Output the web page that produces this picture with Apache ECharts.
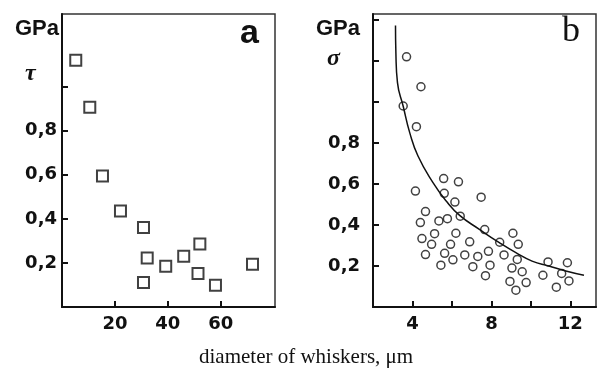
<!DOCTYPE html>
<html>
<head>
<meta charset="utf-8">
<script src="https://cdn.jsdelivr.net/npm/echarts@6/dist/echarts.min.js"></script>
<style>
  html, body { margin: 0; padding: 0; background: #fff; }
  #chart { width: 597px; height: 378px; }
</style>
</head>
<body>
<div id="chart"></div>
<script>
// panel a: shear strength tau vs whisker diameter
const tauDiam = [5.2, 10.5, 15.3, 22.1, 30.8, 32.2, 30.8, 39.2, 46.0, 52.1, 51.4, 58.0, 72.0];
const tauVal = [1.12, 0.907, 0.595, 0.436, 0.361, 0.222, 0.111, 0.185, 0.23, 0.286, 0.152, 0.099, 0.194];

// panel b: tensile strength sigma vs whisker diameter
const sigmaDiam = [3.70, 4.43, 3.53, 4.20, 4.15, 4.66, 4.40, 4.48, 4.97, 5.12, 4.66, 5.34,
  5.58, 5.61, 5.77, 5.44, 5.63, 5.93, 6.20, 6.15, 6.33, 6.42, 6.05, 6.65, 6.90, 7.06,
  7.31, 7.48, 7.66, 7.85, 7.93, 7.70, 8.42, 8.64, 9.09, 9.36, 9.31, 9.04, 8.94, 9.24,
  9.56, 9.76, 10.61, 10.87, 11.29, 11.56, 11.85, 11.93];
const sigmaVal = [1.221, 1.075, 0.981, 0.880, 0.566, 0.466, 0.412, 0.334, 0.306, 0.358, 0.256, 0.420,
  0.627, 0.555, 0.431, 0.204, 0.262, 0.306, 0.360, 0.512, 0.611, 0.443, 0.230, 0.254, 0.318, 0.197,
  0.247, 0.536, 0.378, 0.272, 0.204, 0.153, 0.316, 0.254, 0.360, 0.306, 0.232, 0.190, 0.125, 0.082,
  0.172, 0.119, 0.155, 0.220, 0.097, 0.164, 0.216, 0.127];

// fitted curve in panel b
const fitDiam = [3.14, 3.16, 3.24, 3.53, 3.86, 4.28, 5.04, 5.71, 6.39, 7.39, 8.40, 9.24, 10.06, 10.91, 11.77, 12.69];
const fitVal = [1.374, 1.24, 1.095, 0.980, 0.851, 0.737, 0.607, 0.517, 0.447, 0.379, 0.314, 0.265, 0.224, 0.200, 0.176, 0.155];

// ticks and labels
const aXTicks = [20, 40, 60];
const aYTicks = [0.2, 0.4, 0.6, 0.8, 1.0];
const aYLabels = [0.2, 0.4, 0.6, 0.8];
const bXTicks = [4, 6, 8, 10, 12];
const bXLabels = [4, 8, 12];
const bYTicks = [0.2, 0.4, 0.6, 0.8, 1.0, 1.2, 1.4];
const bYLabels = [0.2, 0.4, 0.6, 0.8];

const zip = (xs, ys) => xs.map((x, i) => [x, ys[i]]);
const fmt = (v) => Number(v).toFixed(1).replace(".", ",");

const labelFont = {
  color: "#111",
  fontFamily: "DejaVu Sans",
  fontWeight: "bold",
  fontSize: 18,
};

function valueAxis(grid, min, max, ticks, labels, margin, fmtFn) {
  return {
    type: "value",
    gridIndex: grid,
    min: min,
    max: max,
    splitLine: { show: false },
    axisLine: { lineStyle: { color: "#111", width: 2 } },
    axisTick: { inside: true, length: 6, customValues: ticks, lineStyle: { color: "#111", width: 2 } },
    axisLabel: Object.assign({ customValues: labels, margin: margin, formatter: fmtFn }, labelFont),
  };
}

const chart = echarts.init(document.getElementById("chart"));

const option = {
  backgroundColor: "#fff",
  animation: false,
  grid: [
    { left: 62, top: 14, width: 213, height: 293, show: true, borderColor: "#333", borderWidth: 1.5 },
    { left: 373, top: 14, width: 223, height: 293, show: true, borderColor: "#333", borderWidth: 1.5 },
  ],
  xAxis: [
    valueAxis(0, 0, 80.5, aXTicks, aXTicks, 8, (v) => String(v)),
    valueAxis(1, 2, 13.3, bXTicks, bXLabels, 8, (v) => String(v)),
  ],
  yAxis: [
    valueAxis(0, 0, 1.33, aYTicks, aYLabels, 5, fmt),
    valueAxis(1, 0, 1.43, bYTicks, bYLabels, 13, fmt),
  ],
  series: [
    {
      type: "scatter",
      xAxisIndex: 0,
      yAxisIndex: 0,
      symbol: "rect",
      symbolSize: 11,
      itemStyle: { color: "#fff", borderColor: "#111", borderWidth: 2 },
      data: zip(tauDiam, tauVal),
    },
    {
      type: "line",
      xAxisIndex: 1,
      yAxisIndex: 1,
      smooth: true,
      showSymbol: false,
      lineStyle: { color: "#111", width: 1.5 },
      data: zip(fitDiam, fitVal),
    },
    {
      type: "scatter",
      xAxisIndex: 1,
      yAxisIndex: 1,
      symbol: "circle",
      symbolSize: 8,
      itemStyle: { color: "#fff", borderColor: "#111", borderWidth: 1.5 },
      data: zip(sigmaDiam, sigmaVal),
    },
  ],
  graphic: [
    { type: "text", left: 15, top: 18, style: { text: "GPa", font: "bold 22px 'Liberation Sans'", fill: "#111" } },
    { type: "text", left: 25, top: 62, style: { text: "τ", font: "italic bold 24px 'Liberation Serif'", fill: "#111" } },
    { type: "text", left: 240, top: 17, style: { text: "a", font: "bold 34px 'Liberation Sans'", fill: "#111" } },
    { type: "text", left: 316, top: 18, style: { text: "GPa", font: "bold 22px 'Liberation Sans'", fill: "#111" } },
    { type: "text", left: 327, top: 47, style: { text: "σ", font: "italic bold 24px 'Liberation Serif'", fill: "#111" } },
    { type: "text", left: 562, top: 14, style: { text: "b", font: "36px 'Liberation Serif'", fill: "#111" } },
    {
      type: "text",
      left: 199,
      top: 347,
      style: { text: "diameter of whiskers, μm", font: "21px 'Liberation Serif'", fill: "#111" },
    },
  ],
};

chart.setOption(option);
</script>
</body>
</html>
